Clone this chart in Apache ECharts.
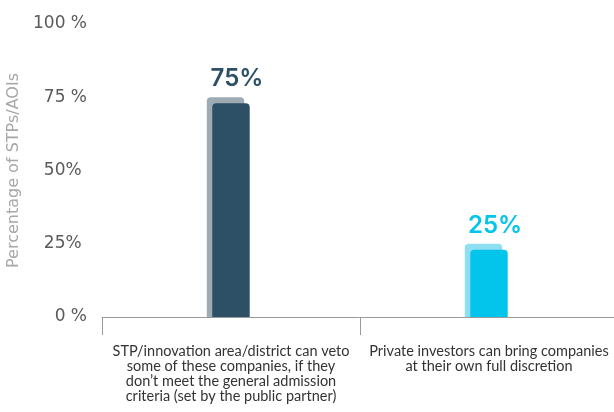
<!DOCTYPE html>
<html>
<head>
<meta charset="utf-8">
<script src="https://cdn.jsdelivr.net/npm/echarts@6/dist/echarts.min.js"></script>
<style>
  html, body { margin: 0; padding: 0; background: #fff; }
  #chart { width: 614px; height: 412px; }
</style>
</head>
<body>
<div id="chart"></div>
<script>
// Admission of companies into the STP / innovation area
const categories = [
  'STP/innovation area/district can veto\nsome of these companies, if they\ndon\u2019t meet the general admission\ncriteria (set by the public partner)',
  'Private investors can bring companies\nat their own full discretion'
];
const shares = [75, 25];
const tickLabels = ['0 %', '25% ', '50% ', '75 %', '100 %'];

// front / back (offset) colours of each bar
const frontColors = ['#2d5066', '#03c4ea'];
const backColors = ['#9eabb3', '#8fdff3'];

const chart = echarts.init(document.getElementById('chart'), null, { renderer: 'canvas' });

function renderBar(params, api) {
  const idx = params.dataIndex;
  const v = api.value(1);
  const top = api.coord([api.value(0), v]);
  const base = api.coord([api.value(0), 0]);
  const bandW = api.size([1, 0])[0];
  const w = bandW * 0.145;
  const shift = 5.5;
  const drop = 6;
  return {
    type: 'group',
    children: [
      {
        type: 'rect',
        shape: { x: top[0] - w / 2 - shift, y: top[1], width: w, height: base[1] - top[1], r: [4, 4, 0, 0] },
        style: { fill: backColors[idx] }
      },
      {
        type: 'rect',
        shape: { x: top[0] - w / 2, y: top[1] + drop, width: w, height: base[1] - top[1] - drop, r: [4, 4, 0, 0] },
        style: { fill: frontColors[idx] }
      },
      {
        type: 'text',
        x: top[0] + 6,
        y: top[1] - 6,
        style: {
          text: v + '%',
          fill: frontColors[idx],
          font: '600 24px Inter',
          textAlign: 'center',
          textVerticalAlign: 'bottom'
        }
      }
    ]
  };
}

chart.setOption({
  animation: false,
  grid: { left: 102, right: -4, top: 24, bottom: 95, containLabel: false, outerBoundsMode: 'none' },
  xAxis: {
    type: 'category',
    data: categories,
    axisLine: { lineStyle: { color: '#9a9a9a', width: 1 } },
    axisTick: { show: true, length: 18, lineStyle: { color: '#9a9a9a' } },
    axisLabel: {
      margin: 27,
      color: '#333',
      fontFamily: 'Lato',
      fontSize: 14.5,
      lineHeight: 15,
      align: 'center',
      interval: 0
    },
    splitLine: { show: false }
  },
  yAxis: {
    type: 'value',
    min: 0,
    max: 100,
    interval: 25,
    name: 'Percentage of STPs/AOIs',
    nameLocation: 'middle',
    nameGap: 79,
    nameTextStyle: { color: '#a8a8a8', fontFamily: 'DejaVu Sans', fontSize: 16 },
    axisLine: { show: false },
    axisTick: { show: false },
    splitLine: { show: false },
    axisLabel: {
      margin: 15,
      color: '#5a5a5a',
      fontFamily: 'DejaVu Sans',
      fontSize: 17,
      formatter: function (val) { return tickLabels[Math.round(val / 25)]; }
    }
  },
  series: [{
    type: 'custom',
    renderItem: renderBar,
    data: shares.map(function (s, i) { return [i, s]; }),
    encode: { x: 0, y: 1 },
    clip: false
  }]
});
</script>
</body>
</html>
